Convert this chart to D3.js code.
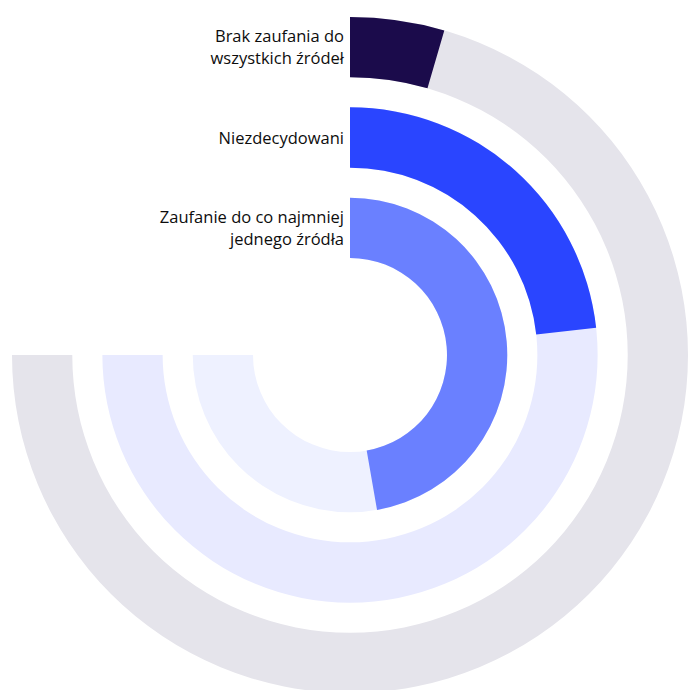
<!DOCTYPE html>
<html>
<head>
<meta charset="utf-8">
<script src="https://cdn.jsdelivr.net/npm/d3@7"></script>
<style>
  html, body { margin: 0; padding: 0; background: #ffffff; }
  svg { display: block; }
</style>
</head>
<body>
<div id="chart"></div>
<script>
// Share of respondents by trust in information sources (percent)
const categories = ["Brak zaufania do wszystkich źródeł", "Niezdecydowani", "Zaufanie do co najmniej jednego źródła"];
const labelLines = [["Brak zaufania do", "wszystkich źródeł"], ["Niezdecydowani"], ["Zaufanie do co najmniej", "jednego źródła"]];
const values = [6, 31, 63];
const barColors = ["#1b0b4b", "#2a45ff", "#6a80ff"];
const trackColors = ["#e5e4eb", "#e8eaff", "#eef1ff"];

const width = 688, height = 690;
const cx = 350, cy = 355;

const svg = d3.select("#chart").append("svg")
  .attr("width", width).attr("height", height);

const g = svg.append("g").attr("transform", `translate(${cx},${cy})`);

// value 0..100 maps to a 270° sweep starting at 12 o'clock
const angle = d3.scaleLinear().domain([0, 100]).range([0, 1.5 * Math.PI]);

// ring bands: first category on the outside
const ring = d3.scaleBand().domain(categories).range([338, 97]).paddingInner(0.333);

const arc = d3.arc();

categories.forEach((c, i) => {
  const inner = ring(c);
  const outer = inner + ring.bandwidth();
  // background track
  g.append("path")
    .attr("d", arc({ innerRadius: inner, outerRadius: outer, startAngle: 0, endAngle: angle(100) }))
    .attr("fill", trackColors[i]);
  // value bar
  g.append("path")
    .attr("d", arc({ innerRadius: inner, outerRadius: outer, startAngle: 0, endAngle: angle(values[i]) }))
    .attr("fill", barColors[i]);

  // label to the left of the ring start
  const lines = labelLines[i];
  const mid = -(outer + inner) / 2;
  const lh = 22;
  const text = g.append("text")
    .attr("text-anchor", "end")
    .attr("font-family", "'Open Sans', 'Noto Sans', sans-serif")
    .attr("font-size", 16.5)
    .attr("font-weight", 500)
    .attr("fill", "#0d0d0d");
  lines.forEach((ln, k) => {
    text.append("tspan")
      .attr("x", -6)
      .attr("y", mid + (k - (lines.length - 1) / 2) * lh + 6)
      .text(ln);
  });
});
</script>
</body>
</html>
